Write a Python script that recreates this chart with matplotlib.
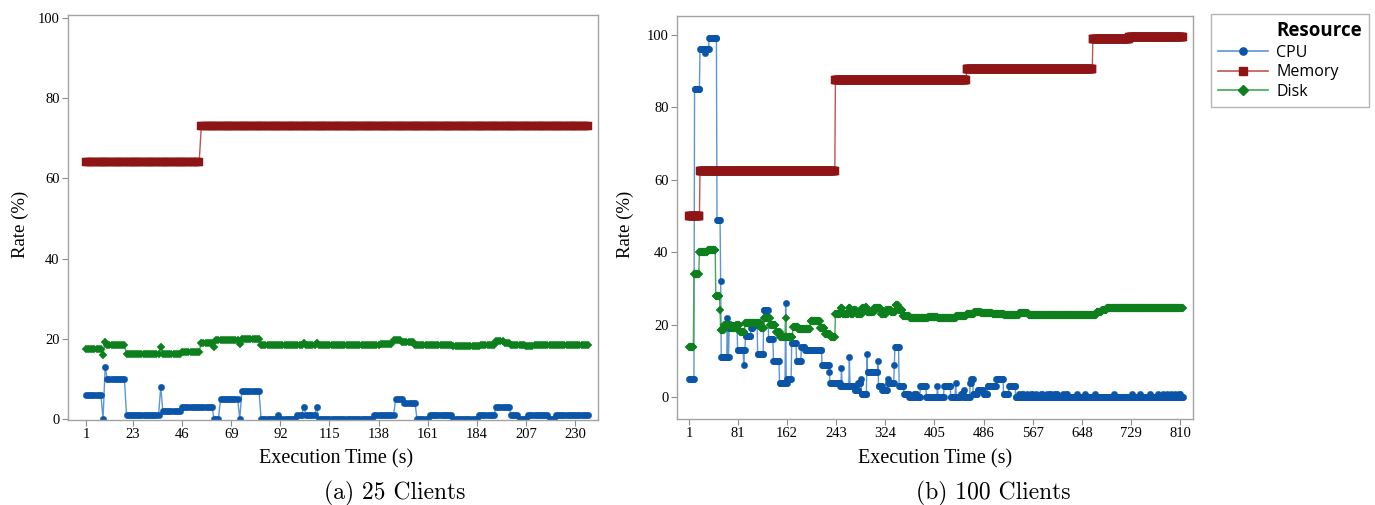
import matplotlib
matplotlib.use('Agg')
import matplotlib.pyplot as plt
from matplotlib.lines import Line2D
import numpy as np

# ---- data: step series given as (start second, value) ----
# (a) 25 clients, 236 samples
n_a = 236
cpu_a_start = [1, 9, 10, 11, 20, 36, 37, 46, 61, 64, 73, 74, 83, 91, 92, 100, 103, 104, 109, 110,
               136, 146, 150, 156, 162, 173, 185, 193, 200, 204, 208, 218, 221]
cpu_a_val = [6, 0, 13, 10, 1, 8, 2, 3, 0, 5, 0, 7, 0, 1, 0, 1, 3, 1, 3, 0,
             1, 5, 4, 0, 1, 0, 1, 3, 1, 0, 1, 0, 1]
mem_a_start = [1, 55]
mem_a_val = [64, 73]
disk_a_start = [1, 9, 10, 11, 20, 36, 37, 46, 55, 61, 62, 73, 74, 83, 103, 104, 109, 110,
                139, 145, 149, 155, 173, 186, 193, 197, 200, 207, 211]
disk_a_val = [17.5, 16, 19.3, 18.5, 16.2, 18, 16.3, 16.8, 19, 18, 19.6, 18.6, 20, 18.4, 19, 18.4, 19, 18.4,
              18.6, 19.6, 19.1, 18.5, 18.3, 18.5, 19.4, 19, 18.5, 18.3, 18.5]

# (b) 100 clients, 814 samples
n_b = 814
cpu_b_start = [1, 10, 19, 27, 28, 34, 47, 53, 54, 64, 65, 67, 72, 78, 81, 91, 92, 94, 103, 106,
               114, 124, 132, 140, 150, 160, 161, 163, 170, 178, 186, 192, 220, 232, 233, 250, 252, 253,
               265, 266, 274, 280, 284, 285, 294, 295, 312, 313, 319, 328, 329, 339, 340, 347, 355,
               364, 372, 376, 382, 392, 410, 411, 421, 432, 440, 441, 449, 453, 454, 464, 466, 469,
               476, 486, 493, 507, 519, 528, 539, 545, 546, 550, 552, 558, 559, 564, 566, 572, 573,
               581, 583, 590, 591, 595, 597, 602, 603, 606, 608, 616, 617, 622, 624, 640, 641, 653,
               654, 669, 670, 700, 701, 730, 731, 744, 745, 760, 761, 774, 775, 782, 783, 788, 789,
               795, 796, 802, 803, 808, 810]
cpu_b_val = [5, 85, 96, 95, 96, 99, 49, 32, 11, 22, 11, 19, 20, 19, 13, 9, 13, 17, 19, 20,
             12, 24, 16, 10, 4, 26, 4, 5, 15, 10, 14, 13, 9, 7, 4, 3, 8, 3,
             11, 3, 2, 4, 5, 1, 12, 7, 10, 3, 2, 5, 4, 9, 14, 3, 1,
             0, 1, 0, 3, 0, 3, 0, 3, 0, 4, 0, 1, 2, 0, 4, 5, 1,
             2, 1, 3, 5, 1, 3, 0, 1, 0, 1, 0, 1, 0, 1, 0, 1, 0,
             1, 0, 1, 0, 1, 0, 1, 0, 1, 0, 1, 0, 1, 0, 1, 0, 1,
             0, 1, 0, 1, 0, 1, 0, 1, 0, 1, 0, 1, 0, 1, 0, 1, 0,
             1, 0, 1, 0, 1, 0]
mem_b_start = [1, 19, 242, 458, 666, 726]
mem_b_val = [50, 62.5, 87.5, 90.5, 98.8, 99.3]
disk_b_start = [1, 9, 18, 32, 45, 52, 53, 59, 71, 79, 85, 93, 119, 125, 135, 144, 151, 160, 161,
                172, 181, 201, 217, 225, 234, 242, 251, 254, 264, 267, 272, 277, 286, 292, 294,
                306, 317, 326, 334, 341, 346, 353, 365, 381, 395, 411, 425, 441, 458, 471, 482,
                501, 520, 545, 560, 600, 640, 672, 681, 689]
disk_b_val = [14, 34, 40, 40.5, 28, 24, 18.5, 20, 19, 20, 18, 20.5, 19, 22, 20, 18, 16.5, 22, 16.5,
              19.5, 18.8, 21, 19, 17.5, 16.5, 23, 24.5, 23, 24.5, 23, 24, 23, 24.5, 25, 23.5,
              24.5, 23, 24, 23.5, 25.5, 24, 22.5, 22, 21.8, 22.2, 22, 21.8, 22.5, 23, 23.5, 23.2,
              23, 22.8, 23.2, 22.8, 22.6, 22.8, 23.5, 24, 24.5]


def expand(start, val, n):
    start = list(start) + [n + 1]
    out = []
    for i in range(len(val)):
        out += [val[i]] * (start[i + 1] - start[i])
    return np.array(out, dtype=float)


W, H = 1375, 505
fig = plt.figure(figsize=(W / 100, H / 100), dpi=100)
ax1 = fig.add_axes([68 / W, (H - 420) / H, 530 / W, 405 / H])
ax2 = fig.add_axes([677 / W, (H - 419) / H, 516 / W, 403 / H])

# colours: dark for symbols, light for connect lines
series = [
    ('CPU', 'o', '#0a55a8', '#5d95d6', 4.6),
    ('Memory', 's', '#8e1515', '#c05454', 5.2),
    ('Disk', 'D', '#0d801d', '#44a854', 4.4),
]

data_a = [expand(cpu_a_start, cpu_a_val, n_a), expand(mem_a_start, mem_a_val, n_a),
          expand(disk_a_start, disk_a_val, n_a)]
data_b = [expand(cpu_b_start, cpu_b_val, n_b), expand(mem_b_start, mem_b_val, n_b),
          expand(disk_b_start, disk_b_val, n_b)]

for ax, data, n in [(ax1, data_a, n_a), (ax2, data_b, n_b)]:
    x = np.arange(1, n + 1)
    for (name, mk, dark, light, ms), y in zip(series, data):
        ax.plot(x, y, color=light, lw=1.0)
        ax.plot(x, y, ls='none', marker=mk, ms=ms, color=dark, mec=dark, mew=0.3)
    for s in ax.spines.values():
        s.set_color('#a3a3a3')
        s.set_linewidth(1.0)
    ax.tick_params(direction='out', length=4, color='#8c8c8c', labelsize=10.5, pad=2)

ax1.set_xlim(-7.4, 240.7)
ax1.set_ylim(-0.25, 100.75)
ax1.set_xticks([1, 23, 46, 69, 92, 115, 138, 161, 184, 207, 230])
ax1.set_yticks([0, 20, 40, 60, 80, 100])

ax2.set_xlim(-18.9, 830.9)
ax2.set_ylim(-6.0, 105.2)
ax2.set_xticks([1, 81, 162, 243, 324, 405, 486, 567, 648, 729, 810])
ax2.set_yticks([0, 20, 40, 60, 80, 100])

serif = 'Liberation Serif'
for ax in (ax1, ax2):
    for lab in ax.get_xticklabels() + ax.get_yticklabels():
        lab.set_family(serif)
        lab.set_fontsize(10.5)

fig.text(336 / W, 1 - 459 / H, 'Execution Time (s)', ha='center', va='center', fontsize=14.5, family=serif)
fig.text(935 / W, 1 - 459 / H, 'Execution Time (s)', ha='center', va='center', fontsize=14.5, family=serif)
fig.text(20 / W, 1 - 224 / H, 'Rate (%)', ha='center', va='center', rotation=90, fontsize=13.5, family=serif)
fig.text(625 / W, 1 - 224 / H, 'Rate (%)', ha='center', va='center', rotation=90, fontsize=13.5, family=serif)

fig.text(395 / W, 1 - 493 / H, '(a) 25 Clients', ha='center', va='center', fontsize=17, family='cmr10')
fig.text(993 / W, 1 - 493 / H, '(b) 100 Clients', ha='center', va='center', fontsize=17, family='cmr10')

# legend: title as a blank first row so it lines up with the labels
handles = [Line2D([], [], color='none')]
for name, mk, dark, light, ms in series:
    handles.append(Line2D([], [], color=light, lw=1.2, marker=mk, ms=ms + 0.6,
                          markerfacecolor=dark, markeredgecolor=dark))
labels = ['Resource', 'CPU', 'Memory', 'Disk']
leg = fig.legend(handles, labels, loc='upper left', bbox_to_anchor=(1211 / W, 1 - 14 / H),
                 borderaxespad=0, frameon=True, fancybox=False, edgecolor='#a3a3a3',
                 handlelength=3.1, handletextpad=0.55, labelspacing=0.22, borderpad=0.45,
                 prop={'family': 'Open Sans', 'size': 11.5})
leg.get_frame().set_linewidth(1.0)
leg.get_texts()[0].set_fontweight('bold')
leg.get_texts()[0].set_fontsize(13.5)

fig.savefig('out.png', dpi=100, facecolor='white')
